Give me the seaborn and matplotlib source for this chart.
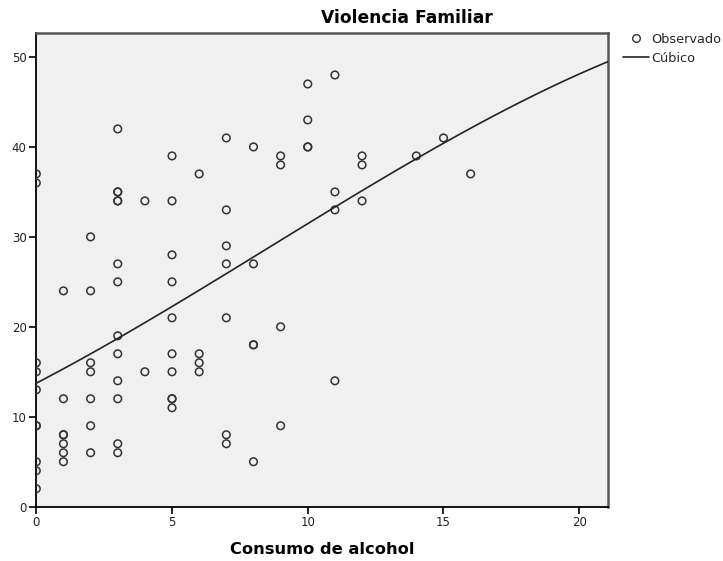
import numpy as np
import pandas as pd
import matplotlib
matplotlib.use("Agg")
import matplotlib.pyplot as plt
import seaborn as sns
from matplotlib.lines import Line2D

# Observed values: alcohol consumption (x) and family-violence score (y)
consumo = [0, 0, 0, 0, 0, 0, 0, 0, 0, 0,
           1, 1, 1, 1, 1, 1, 1,
           2, 2, 2, 2, 2, 2, 2,
           3, 3, 3, 3, 3, 3, 3, 3, 3, 3, 3, 3, 3,
           4, 4,
           5, 5, 5, 5, 5, 5, 5, 5, 5, 5,
           6, 6, 6, 6,
           7, 7, 7, 7, 7, 7, 7,
           8, 8, 8, 8, 8,
           9, 9, 9, 9,
           10, 10, 10, 10,
           11, 11, 11, 11,
           12, 12, 12,
           14, 15, 16]
violencia = [37, 36, 16, 15, 13, 9, 9, 5, 4, 2,
             24, 12, 8, 8, 7, 6, 5,
             30, 24, 16, 15, 12, 9, 6,
             42, 35, 35, 34, 34, 27, 25, 19, 17, 14, 12, 7, 6,
             34, 15,
             39, 34, 28, 25, 21, 17, 15, 12, 12, 11,
             37, 17, 16, 15,
             41, 33, 29, 27, 21, 8, 7,
             40, 27, 18, 18, 5,
             39, 38, 20, 9,
             47, 43, 40, 40,
             48, 35, 33, 14,
             39, 38, 34,
             39, 41, 37]

x_ticks = [0, 5, 10, 15, 20]
y_ticks = [0, 10, 20, 30, 40, 50]

df = pd.DataFrame({"Consumo de alcohol": consumo, "Violencia Familiar": violencia})

sns.set_style("white")
plt.rcParams["font.family"] = ["DejaVu Sans"]

W, H = 723, 561
fig = plt.figure(figsize=(W / 100, H / 100), dpi=100)
ax = fig.add_axes([36.3 / W, 1 - 506.7 / H, (608 - 36.3) / W, (506.7 - 32.7) / H])
ax.set_facecolor("#f0f0f0")
ax.set_xlim(0, 21.06)
ax.set_ylim(0, 52.7)

# Scatter of observations (hollow circles)
sns.scatterplot(data=df, x="Consumo de alcohol", y="Violencia Familiar", ax=ax,
                marker="o", s=30, facecolor="none", edgecolor="#333333",
                linewidth=1.1, legend=False, zorder=3)

# Cubic regression curve across the full x range
sns.regplot(data=df, x="Consumo de alcohol", y="Violencia Familiar", ax=ax,
            order=3, ci=None, scatter=False, truncate=False,
            line_kws=dict(color="#222222", linewidth=1.2, zorder=4))

ax.set_xlim(0, 21.06)
ax.set_ylim(0, 52.7)
ax.set_xticks(x_ticks)
ax.set_yticks(y_ticks)
ax.tick_params(axis="both", direction="out", length=5, width=1.2, color="black",
               labelsize=8.5, labelcolor="#222222", pad=2, bottom=True, left=True)
ax.set_xlabel("")
ax.set_ylabel("")

for side in ("left", "bottom"):
    ax.spines[side].set_color("black")
    ax.spines[side].set_linewidth(1.3)
for side in ("top", "right"):
    ax.spines[side].set_color("#555555")
    ax.spines[side].set_linewidth(1.8)

fig.text(407 / W, 1 - 18 / H, "Violencia Familiar", ha="center", va="center",
         fontsize=12.3, fontweight="bold", color="black")
fig.text(322.5 / W, 1 - 550 / H, "Consumo de alcohol", ha="center", va="center",
         fontsize=11.7, fontweight="bold", color="black")

handles = [
    Line2D([], [], linestyle="none", marker="o", markersize=5.5,
           markerfacecolor="none", markeredgecolor="#333333", markeredgewidth=1.0),
    Line2D([], [], color="#222222", linewidth=1.2),
]
fig.legend(handles, ["Observado", "Cúbico"], loc="upper left",
           bbox_to_anchor=(623 / W, 1 - 33 / H), frameon=False, fontsize=9.3,
           handlelength=2.0, handletextpad=0.2, labelspacing=0.45,
           borderpad=0, borderaxespad=0)

fig.savefig("out.png", dpi=100)
